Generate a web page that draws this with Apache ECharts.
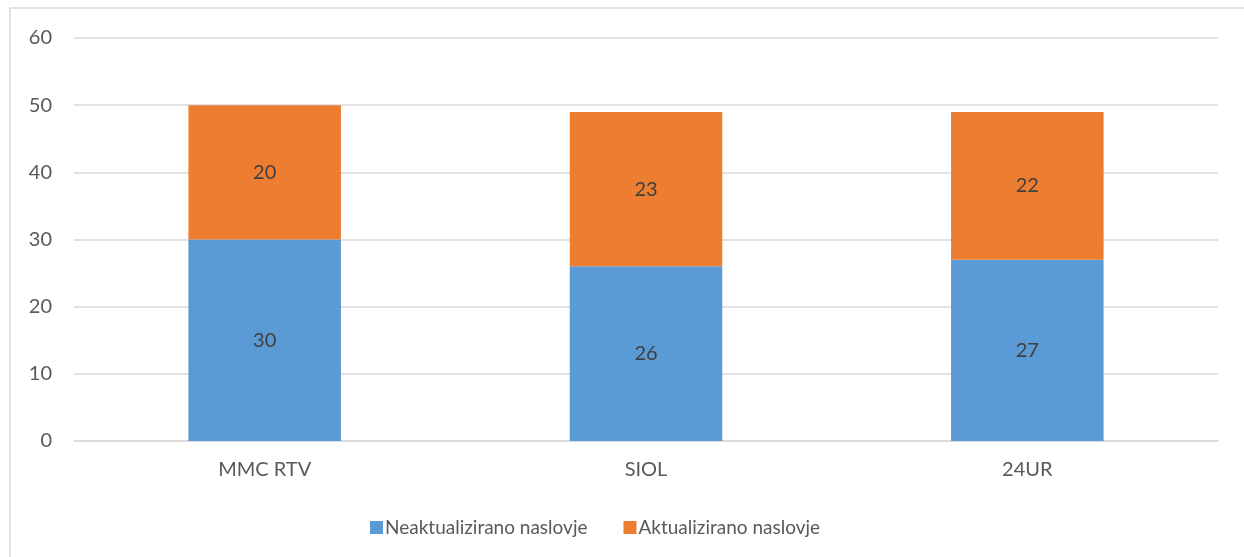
<!DOCTYPE html>
<html><head><meta charset="utf-8">
<script src="https://cdn.jsdelivr.net/npm/echarts@6/dist/echarts.min.js"></script>
<style>html,body{margin:0;padding:0;background:#fff}#c{width:1244px;height:557px}</style>
</head><body><div id="c"></div>
<script>
const categories = ['MMC RTV', 'SIOL', '24UR'];
const neaktualizirano = [30, 26, 27];
const aktualizirano = [20, 23, 22];
const seriesNames = ['Neaktualizirano naslovje', 'Aktualizirano naslovje'];
const font = 'Lato, "Open Sans", sans-serif';
const chart = echarts.init(document.getElementById('c'), null, {renderer: 'canvas'});
chart.setOption({
  animation: false,
  backgroundColor: '#fff',
  graphic: [{type: 'rect', shape: {x: 10, y: 8, width: 1300, height: 600}, style: {fill: 'none', stroke: '#D9D9D9', lineWidth: 1.5}, z: -1}],
  grid: {left: 74, right: 26, top: 38, bottom: 116},
  legend: {left: 365, top: 513, itemWidth: 13, itemHeight: 13, itemGap: 36, icon: 'rect',
    textStyle: {fontFamily: font, fontSize: 19, color: '#595959', padding: [0,0,0,-3]}, data: seriesNames},
  xAxis: {type: 'category', data: categories,
    axisLine: {lineStyle: {color: '#D9D9D9', width: 1.5}}, axisTick: {show: false},
    axisLabel: {fontFamily: font, fontSize: 20, color: '#595959', margin: 19}},
  yAxis: {type: 'value', min: 0, max: 60, interval: 10,
    axisLine: {show: false}, axisTick: {show: false},
    splitLine: {lineStyle: {color: '#D9D9D9', width: 1.5}},
    axisLabel: {fontFamily: font, fontSize: 20, color: '#595959', margin: 22}},
  series: [
    {name: seriesNames[0], type: 'bar', stack: 's', data: neaktualizirano, barWidth: '40%',
     itemStyle: {color: '#5B9BD5'},
     label: {show: true, position: 'inside', fontFamily: font, fontSize: 20, color: '#404040'}},
    {name: seriesNames[1], type: 'bar', stack: 's', data: aktualizirano, barWidth: '40%',
     itemStyle: {color: '#ED7D31'},
     label: {show: true, position: 'inside', fontFamily: font, fontSize: 20, color: '#404040'}}
  ]
});
</script></body></html>
